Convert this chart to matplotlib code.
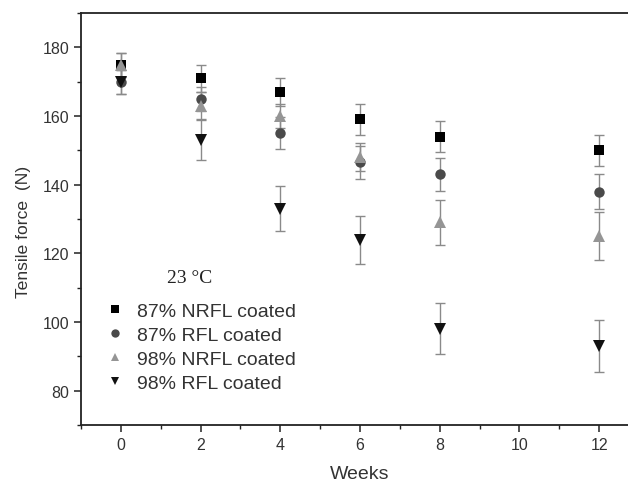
import numpy as np
import matplotlib
matplotlib.use("Agg")
import matplotlib.pyplot as plt
from matplotlib.ticker import MultipleLocator

plt.rcParams['font.family'] = ['Liberation Sans', 'DejaVu Sans']

# data
weeks = [0, 2, 4, 6, 8, 12]
nrfl87 = [175, 171, 167, 159, 154, 150]
nrfl87_err = [3.5, 4, 4, 4.4, 4.6, 4.5]
rfl87 = [170, 165, 155, 146.5, 143, 138]
rfl87_err = [3.5, 3.5, 4.6, 4.8, 4.8, 5]
nrfl98 = [175, 163, 160, 148, 129, 125]
nrfl98_err = [3.5, 4, 3.5, 4, 6.6, 7]
rfl98 = [170, 153, 133, 124, 98, 93]
rfl98_err = [3.5, 5.7, 6.5, 7, 7.4, 7.5]

labels = ["87% NRFL coated", "87% RFL coated", "98% NRFL coated", "98% RFL coated"]
series = [nrfl87, rfl87, nrfl98, rfl98]
errors = [nrfl87_err, rfl87_err, nrfl98_err, rfl98_err]
markers = ["s", "o", "^", "v"]
colors = ["#000000", "#4a4a4a", "#959595", "#111111"]
sizes = [7, 7.5, 8, 8]

fig = plt.figure(figsize=(6.28, 4.85), dpi=100)
ax = fig.add_axes([0.129, 0.1216, 0.8885, 0.8495])

handles = []
for y, e, m, c, s, lab in zip(series, errors, markers, colors, sizes, labels):
    ax.errorbar(weeks, y, yerr=e, fmt="none", ecolor="#8a8a8a",
                elinewidth=1.0, capsize=3.5, capthick=1.0, zorder=2)
    h, = ax.plot(weeks, y, linestyle="none", marker=m, color=c,
                 markersize=s, markeredgewidth=0, zorder=3, label=lab)
    handles.append(h)

ax.set_xlim(-1, 13)
ax.set_ylim(70, 190)
ax.xaxis.set_major_locator(MultipleLocator(2))
ax.xaxis.set_minor_locator(MultipleLocator(1))
ax.yaxis.set_major_locator(MultipleLocator(20))
ax.yaxis.set_minor_locator(MultipleLocator(10))
ax.set_yticks([80, 100, 120, 140, 160, 180])

ax.tick_params(which="major", direction="out", length=5, width=1.1,
               labelsize=11.5, colors="#222222", labelcolor="#333333")
ax.tick_params(which="minor", direction="out", length=3, width=1.0,
               colors="#222222")
for sp in ax.spines.values():
    sp.set_linewidth(1.3)
    sp.set_color("#222222")
ax.spines["right"].set_visible(False)

ax.set_xlabel("Weeks", fontsize=14, color="#333333")
ax.xaxis.set_label_coords(0.5, -0.097)
ax.set_ylabel("Tensile force  (N)", fontsize=12.6, color="#333333")
ax.yaxis.set_label_coords(-0.09, 0.471)

ax.text(1.15, 113, "23 \u00b0C", fontsize=14, family=["Liberation Serif", "DejaVu Serif"],
        color="#222222", va="center", ha="left")

leg = ax.legend(handles=handles, loc="upper left", bbox_to_anchor=(0.033, 0.316),
                frameon=False, fontsize=14, handlelength=0.8, handletextpad=0.73,
                labelspacing=0.32, markerscale=0.8, borderaxespad=0)
for t in leg.get_texts():
    t.set_color("#333333")

fig.savefig("out.png", dpi=100)
